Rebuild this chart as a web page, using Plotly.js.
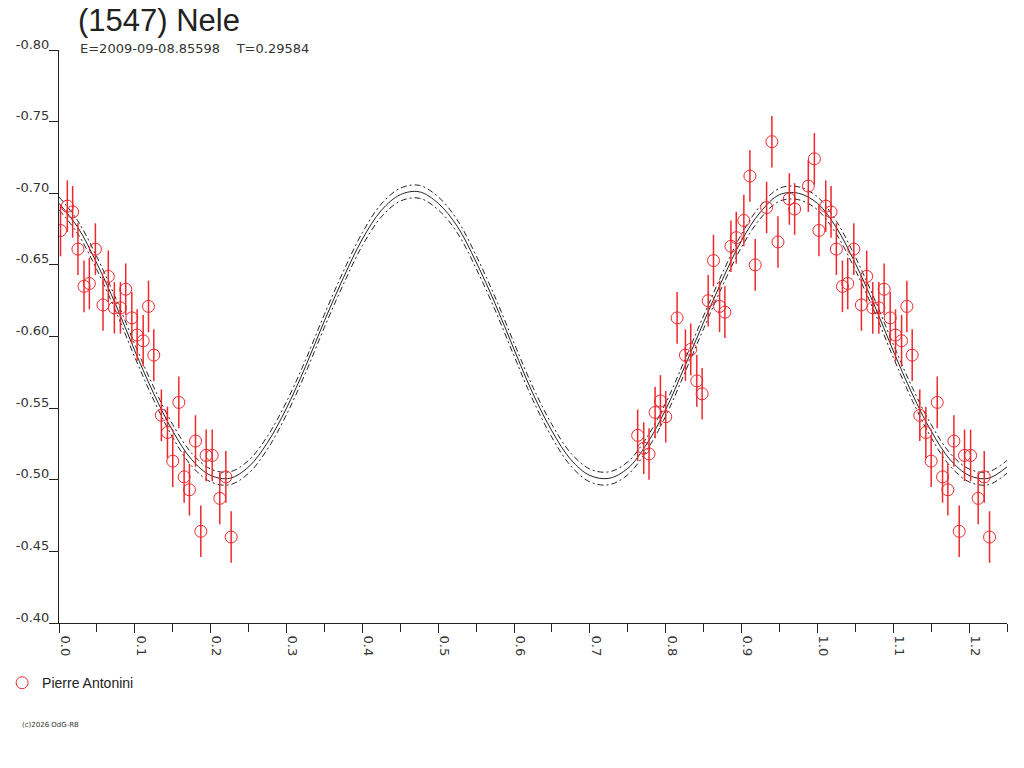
<!DOCTYPE html>
<html>
<head>
<meta charset="utf-8">
<script src="https://cdn.plot.ly/plotly-3.0.1.min.js"></script>
<style>
    html, body { margin: 0; padding: 0; background: #fff; }
    #plot { width: 1024px; height: 768px; }
</style>
</head>
<body>
<div id="plot"></div>
<script>
// наблюдения, фаза 0.00 - 0.23
const phaseA = [0.002, 0.011, 0.018, 0.025, 0.033, 0.040, 0.048, 0.058, 0.065, 0.073,
                0.081, 0.088, 0.096, 0.103, 0.111, 0.118, 0.125, 0.135, 0.143, 0.150,
                0.158, 0.165, 0.172, 0.180, 0.187, 0.194, 0.202, 0.212, 0.220, 0.227];
const magA = [-0.674, -0.691, -0.687, -0.661, -0.635, -0.637, -0.661, -0.622, -0.642, -0.620,
              -0.620, -0.633, -0.613, -0.601, -0.597, -0.621, -0.587, -0.545, -0.533, -0.513,
              -0.554, -0.502, -0.493, -0.527, -0.464, -0.517, -0.517, -0.487, -0.502, -0.460];

// наблюдения, фаза 0.76 - 1.00
const phaseB = [0.763, 0.771, 0.778, 0.786, 0.793, 0.800, 0.815, 0.826, 0.833, 0.841,
                0.848, 0.856, 0.863, 0.871, 0.878, 0.886, 0.893, 0.903, 0.911, 0.918,
                0.933, 0.940, 0.948, 0.963, 0.970, 0.988, 0.996];
const magB = [-0.531, -0.522, -0.518, -0.547, -0.555, -0.544, -0.613, -0.587, -0.591, -0.569,
              -0.560, -0.625, -0.653, -0.621, -0.617, -0.663, -0.669, -0.681, -0.712, -0.650,
              -0.690, -0.736, -0.666, -0.696, -0.689, -0.705, -0.724];

const magErr = 0.018;

// кривая Фурье и её границы
const fitPhase = [0.000, 0.025, 0.050, 0.075, 0.100, 0.125, 0.150, 0.175, 0.200, 0.225,
                  0.250, 0.275, 0.300, 0.325, 0.350, 0.375, 0.400, 0.425, 0.450, 0.475,
                  0.500, 0.525, 0.550, 0.575, 0.600, 0.625, 0.650, 0.675, 0.700, 0.725,
                  0.750, 0.775, 0.800, 0.825, 0.850, 0.875, 0.900, 0.925, 0.950, 0.975,
                  1.000, 1.025, 1.050, 1.075, 1.100, 1.125, 1.150, 1.175, 1.200, 1.225, 1.250];
const fitMag = [-0.693, -0.676, -0.651, -0.622, -0.590, -0.560, -0.534, -0.514, -0.503, -0.501,
                -0.509, -0.526, -0.550, -0.579, -0.611, -0.641, -0.668, -0.688, -0.699, -0.701,
                -0.693, -0.677, -0.652, -0.623, -0.591, -0.560, -0.534, -0.514, -0.503, -0.501,
                -0.508, -0.525, -0.549, -0.579, -0.610, -0.640, -0.667, -0.687, -0.699, -0.700,
                -0.693, -0.676, -0.651, -0.622, -0.590, -0.560, -0.534, -0.514, -0.503, -0.501, -0.509];
const fitUpper = [-0.6975, -0.6805, -0.6555, -0.6265, -0.5945, -0.5645, -0.5385, -0.5185, -0.5075, -0.5055,
                  -0.5135, -0.5305, -0.5545, -0.5835, -0.6155, -0.6455, -0.6725, -0.6925, -0.7035, -0.7055,
                  -0.6975, -0.6815, -0.6565, -0.6275, -0.5955, -0.5645, -0.5385, -0.5185, -0.5075, -0.5055,
                  -0.5125, -0.5295, -0.5535, -0.5835, -0.6145, -0.6445, -0.6715, -0.6915, -0.7035, -0.7045,
                  -0.6975, -0.6805, -0.6555, -0.6265, -0.5945, -0.5645, -0.5385, -0.5185, -0.5075, -0.5055, -0.5135];
const fitLower = [-0.6885, -0.6715, -0.6465, -0.6175, -0.5855, -0.5555, -0.5295, -0.5095, -0.4985, -0.4965,
                  -0.5045, -0.5215, -0.5455, -0.5745, -0.6065, -0.6365, -0.6635, -0.6835, -0.6945, -0.6965,
                  -0.6885, -0.6725, -0.6475, -0.6185, -0.5865, -0.5555, -0.5295, -0.5095, -0.4985, -0.4965,
                  -0.5035, -0.5205, -0.5445, -0.5745, -0.6055, -0.6355, -0.6625, -0.6825, -0.6945, -0.6955,
                  -0.6885, -0.6715, -0.6465, -0.6175, -0.5855, -0.5555, -0.5295, -0.5095, -0.4985, -0.4965, -0.5045];

// подписи оси Y (с обычным дефисом, как в оригинале)
const yTickVals = [-0.80, -0.75, -0.70, -0.65, -0.60, -0.55, -0.50, -0.45, -0.40];
const yTickText = ['-0.80', '-0.75', '-0.70', '-0.65', '-0.60', '-0.55', '-0.50', '-0.45', '-0.40'];

const observer = "Pierre Antonini";
const objName = "(1547) Nele";
const epochText = "E=2009-09-08.85598\u00a0\u00a0\u00a0\u00a0T=0.29584";
const copyText = "(c)2026 OdG-RB";

const red = '#f0282d';
const ink = '#222222';
const tickFont = {family: 'DejaVu Sans', size: 13, color: '#333333'};

let main = () => {
    // точки с фазой < 0.25 повторяются после 1.0
    let xs = phaseA.concat(phaseB);
    let ys = magA.concat(magB);
    phaseA.forEach((p, i) => {
        if (p < 0.25) {
            xs.push(p + 1);
            ys.push(magA[i]);
        }
    });

    let envStyle = {color: ink, width: 1, dash: '6px,3px,2px,3px', shape: 'spline'};

    let traces = [
        {x: fitPhase, y: fitUpper, mode: 'lines', line: envStyle, showlegend: false, hoverinfo: 'skip'},
        {x: fitPhase, y: fitLower, mode: 'lines', line: envStyle, showlegend: false, hoverinfo: 'skip'},
        {x: fitPhase, y: fitMag, mode: 'lines', line: {color: ink, width: 1, shape: 'spline'},
            showlegend: false, hoverinfo: 'skip'},
        {
            x: xs,
            y: ys,
            mode: 'markers',
            name: observer,
            marker: {symbol: 'circle-open', size: 12, color: red, line: {width: 1, color: red}},
            error_y: {type: 'constant', value: magErr, width: 0, thickness: 1.5, color: red}
        }
    ];

    let layout = {
        width: 1024,
        height: 768,
        margin: {l: 59, r: 17, t: 50, b: 145, autoexpand: false},
        paper_bgcolor: '#fff',
        plot_bgcolor: '#fff',
        showlegend: true,
        title: {
            text: objName,
            font: {family: 'Liberation Sans', size: 31, color: ink},
            xref: 'container', yref: 'container',
            x: 78 / 1024, xanchor: 'left',
            y: 1 - 20 / 768, yanchor: 'middle'
        },
        xaxis: {
            range: [0, 1.25],
            automargin: false,
            tick0: 0, dtick: 0.1, tickformat: '.1f',
            ticks: 'outside', ticklen: 9, tickcolor: ink, tickwidth: 1,
            tickangle: 90, ticklabelshift: 6,
            tickfont: tickFont,
            minor: {ticks: 'outside', dtick: 0.05, ticklen: 8, tickcolor: ink, showgrid: false},
            showline: true, linecolor: ink, linewidth: 1,
            showgrid: false, zeroline: false
        },
        yaxis: {
            range: [-0.40, -0.80],
            automargin: false,
            tickmode: 'array', tickvals: yTickVals, ticktext: yTickText,
            ticks: 'outside', ticklen: 9, tickcolor: ink, tickwidth: 1,
            ticklabelshift: 6, ticklabelstandoff: -3,
            tickfont: tickFont,
            showline: true, linecolor: ink, linewidth: 1,
            showgrid: false, zeroline: false
        },
        legend: {
            x: -0.060, xanchor: 'left',
            y: -0.077, yanchor: 'top',
            bgcolor: 'rgba(0,0,0,0)', borderwidth: 0,
            font: {family: 'Liberation Sans', size: 14, color: ink}
        },
        annotations: [
            {
                text: epochText, showarrow: false,
                xref: 'paper', yref: 'paper',
                x: (78 - 59) / 948, xanchor: 'left',
                y: 1 + 2 / 573, yanchor: 'middle',
                font: {family: 'DejaVu Sans', size: 13, color: '#333333'}
            },
            {
                text: copyText, showarrow: false,
                xref: 'paper', yref: 'paper',
                x: (20 - 59) / 948, xanchor: 'left',
                y: -(725 - 623) / 573, yanchor: 'middle',
                font: {family: 'DejaVu Sans', size: 7, color: '#333333'}
            }
        ]
    };

    Plotly.newPlot(document.getElementById('plot'), traces, layout, {staticPlot: true});
};

main();
</script>
</body>
</html>
